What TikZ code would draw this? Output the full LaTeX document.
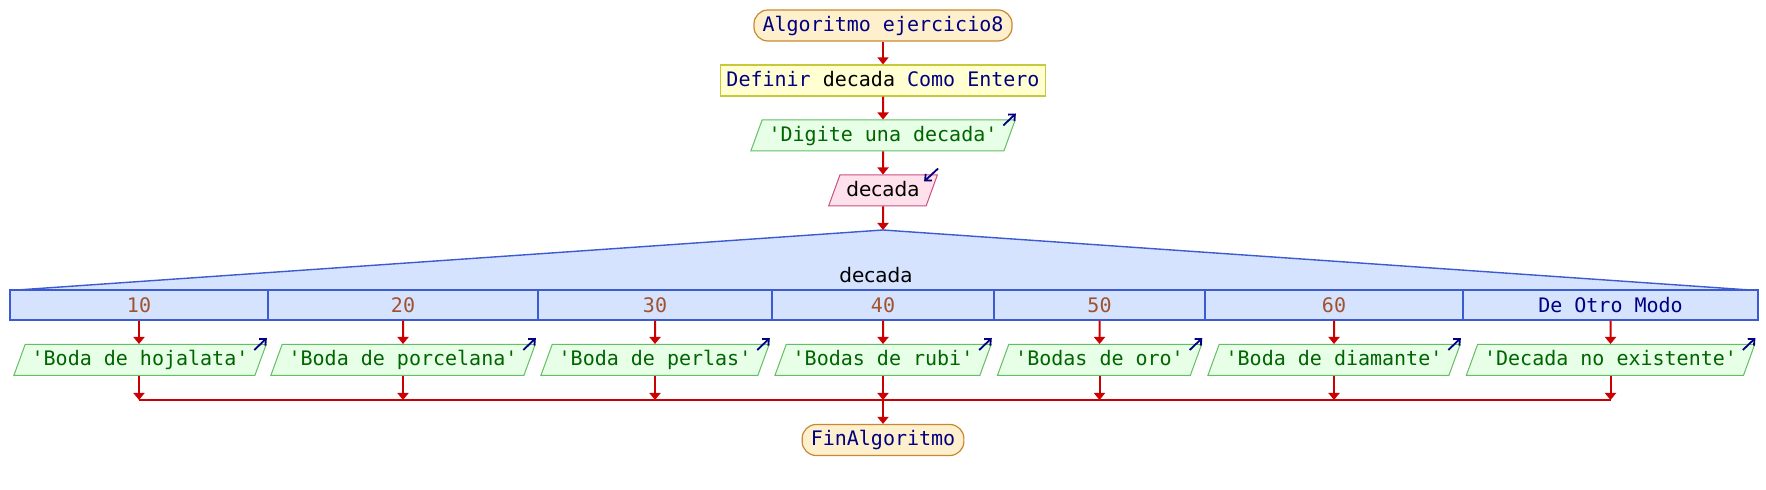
\documentclass[tikz,border=0pt]{standalone}
\usepackage{fontspec}
\setmainfont{DejaVu Sans}
\setmonofont{DejaVu Sans Mono}
\usetikzlibrary{shapes.geometric,arrows.meta,calc}

\definecolor{kwblue}{RGB}{0,0,128}
\definecolor{strgreen}{RGB}{0,100,0}
\definecolor{numbrown}{RGB}{160,82,45}
\definecolor{flowred}{RGB}{204,0,0}
\definecolor{termfill}{RGB}{255,240,205}
\definecolor{termline}{RGB}{200,136,51}
\definecolor{deffill}{RGB}{255,255,210}
\definecolor{defline}{RGB}{200,200,60}
\definecolor{readfill}{RGB}{255,225,235}
\definecolor{readline}{RGB}{200,80,130}
\definecolor{outfill}{RGB}{230,255,230}
\definecolor{outline}{RGB}{100,190,100}
\definecolor{casefill}{RGB}{213,227,255}
\definecolor{caseline}{RGB}{60,90,210}

\tikzset{
  txt/.style={text height=8pt, text depth=2pt, inner ysep=2.75pt},
  term/.style={txt, draw=termline, fill=termfill, line width=0.6pt, rounded corners=7pt, font=\ttfamily, text=kwblue, inner xsep=4.3pt},
  defbox/.style={txt, draw=defline, fill=deffill, line width=0.6pt, font=\ttfamily, text=kwblue, inner xsep=3pt},
  io/.style={txt, trapezium, trapezium left angle=70, trapezium right angle=110, inner xsep=3.25pt, line width=0.5pt},
  outbox/.style={io, draw=outline, fill=outfill, font=\ttfamily, text=strgreen},
  readbox/.style={io, draw=readline, fill=readfill},
  casebox/.style={draw=caseline, fill=casefill, line width=0.7pt, minimum height=15pt, inner sep=0pt, font=\ttfamily, text=numbrown},
  flow/.style={draw=flowred, line width=1pt, -{Triangle[length=3.5pt,width=5.5pt]}},
  joinline/.style={draw=flowred, line width=1pt},
  outmark/.style={draw=kwblue, line width=0.9pt, -{Straight Barb[length=2.5pt,width=4.5pt]}},
}

\begin{document}
\begin{tikzpicture}[x=0.5pt,y=-0.5pt]

\useasboundingbox (0,0) rectangle (1766,490);

%Start, definition, output and input
\node[term] (start) at (883,25.5) {Algoritmo ejercicio8};
\node[defbox] (def) at (883,80.5) {Definir \textcolor{black}{decada} Como Entero};
\node[outbox] (ask) at (883,135.5) {'Digite una decada'};
\node[readbox] (read) at (883,190.5) {decada};

%Switch head
\coordinate (swl) at (17,290);
\coordinate (apex) at (883,230);
\coordinate (swr) at (1750,290);
\fill[casefill] (swl) -- (apex) -- (swr) -- cycle;
\draw[caseline, line width=0.7pt] (swl) -- (apex) -- (swr);
\node (sw) at (876,275) {decada};

%Case cells
\node[casebox, minimum width=129pt] (c1) at (139,305) {10};
\node[casebox, minimum width=135pt] (c2) at (403,305) {20};
\node[casebox, minimum width=117pt] (c3) at (655,305) {30};
\node[casebox, minimum width=111pt] (c4) at (883,305) {40};
\node[casebox, minimum width=105.5pt] (c5) at (1099.5,305) {50};
\node[casebox, minimum width=129pt] (c6) at (1334,305) {60};
\node[casebox, minimum width=147.5pt, text=kwblue] (c7) at (1610.5,305) {De Otro Modo};

%Case outputs
\node[outbox] (o1) at (140,360) {'Boda de hojalata'};
\node[outbox] (o2) at (403,360) {'Boda de porcelana'};
\node[outbox] (o3) at (655,360) {'Boda de perlas'};
\node[outbox] (o4) at (883,360) {'Bodas de rubi'};
\node[outbox] (o5) at (1099.5,360) {'Bodas de oro'};
\node[outbox] (o6) at (1334,360) {'Boda de diamante'};
\node[outbox] (o7) at (1610.5,360) {'Decada no existente'};

%Joining line and end
\coordinate (j1) at (139,400);
\coordinate (j2) at (403,400);
\coordinate (j3) at (655,400);
\coordinate (j4) at (883,400);
\coordinate (j5) at (1099.5,400);
\coordinate (j6) at (1334,400);
\coordinate (j7) at (1610.5,400);
\node[term] (end) at (883,440) {FinAlgoritmo};

%Drawing the flow
\draw[flow] (start) -- (def);
\draw[flow] (def) -- (ask);
\draw[flow] (ask) -- (read);
\draw[flow] (read) -- (apex);
\draw[flow] (c1) -- (c1 |- o1.north);
\draw[flow] (c2) -- (o2);
\draw[flow] (c3) -- (o3);
\draw[flow] (c4) -- (o4);
\draw[flow] (c5) -- (o5);
\draw[flow] (c6) -- (o6);
\draw[flow] (c7) -- (o7);
\draw[flow] (o1.south -| j1) -- (j1);
\draw[flow] (o2) -- (j2);
\draw[flow] (o3) -- (j3);
\draw[flow] (o4) -- (j4);
\draw[flow] (o5) -- (j5);
\draw[flow] (o6) -- (j6);
\draw[flow] (o7) -- (j7);
\draw[joinline] (j1) -- (j7);
\draw[flow] (j4) -- (end);

%Marking output and input
\draw[outmark] ([shift={(-6.3pt,-3pt)}]ask.top right corner) -- ([shift={(0pt,3pt)}]ask.top right corner);
\draw[outmark] ([shift={(0pt,3pt)}]read.top right corner) -- ([shift={(-7pt,-3.5pt)}]read.top right corner);
\draw[outmark] ([shift={(-6.3pt,-3pt)}]o1.top right corner) -- ([shift={(0pt,3pt)}]o1.top right corner);
\draw[outmark] ([shift={(-6.3pt,-3pt)}]o2.top right corner) -- ([shift={(0pt,3pt)}]o2.top right corner);
\draw[outmark] ([shift={(-6.3pt,-3pt)}]o3.top right corner) -- ([shift={(0pt,3pt)}]o3.top right corner);
\draw[outmark] ([shift={(-6.3pt,-3pt)}]o4.top right corner) -- ([shift={(0pt,3pt)}]o4.top right corner);
\draw[outmark] ([shift={(-6.3pt,-3pt)}]o5.top right corner) -- ([shift={(0pt,3pt)}]o5.top right corner);
\draw[outmark] ([shift={(-6.3pt,-3pt)}]o6.top right corner) -- ([shift={(0pt,3pt)}]o6.top right corner);
\draw[outmark] ([shift={(-6.3pt,-3pt)}]o7.top right corner) -- ([shift={(0pt,3pt)}]o7.top right corner);
\end{tikzpicture}
\end{document}
